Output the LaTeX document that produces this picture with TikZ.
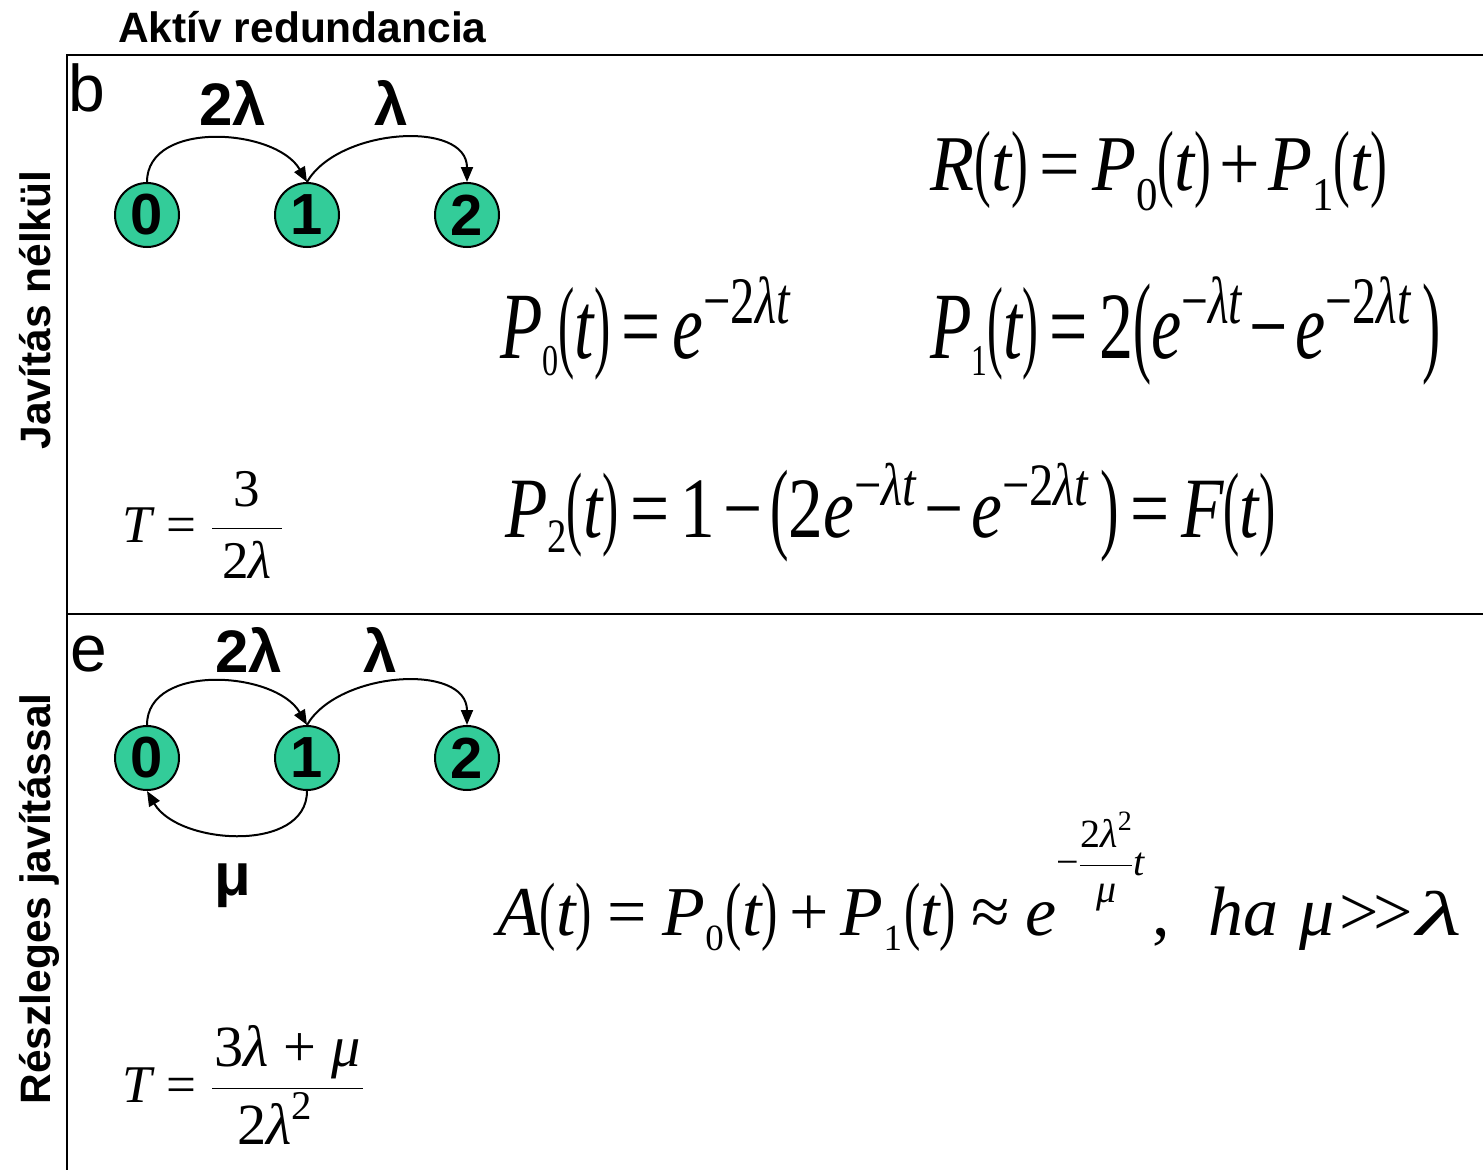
\RequirePackage{fix-cm}
\documentclass[tikz,border=0pt]{standalone}
\usepackage{amsmath}
\usepackage{fontspec}
\setmainfont{Liberation Serif}
\setsansfont{Liberation Sans}
\usetikzlibrary{arrows.meta}
\definecolor{stategreen}{HTML}{33CC99}
\newcommand{\fsz}[1]{\fontsize{#1}{#1}\selectfont}
\newcommand{\tightmu}{\thickmuskip=3mu\relax\medmuskip=2mu\relax}
\newcommand{\vi}[1]{\text{\itshape #1}}
\newcommand{\vn}[1]{\text{\upshape #1}}
\newcommand{\sbx}[3]{\raisebox{-#1}{\fsz{#2}\upshape #3}}
\newcommand{\eqs}{\mathrel{\vn{=}}}
\newcommand{\pls}{\mathbin{\vn{+}}}
\newcommand{\mns}{\mathbin{\vn{−}}}
\newcommand{\lpar}{\vn{\scalebox{0.7}[1.08]{(}}}
\newcommand{\rpar}{\vn{\scalebox{0.7}[1.08]{)}}}
\newcommand{\oft}{\lpar\vi{t}\rpar}
\newcommand{\bp}[1]{\raisebox{-0.035em}{\scalebox{0.8}[1.18]{\vn{#1}}}}

\begin{document}
\begin{tikzpicture}[x=1pt,y=-1pt,
  state/.style={circle,draw,line width=2pt,fill=stategreen,minimum size=64pt,inner sep=0pt,font=\sffamily\bfseries\fsz{58}},
  trans/.style={line width=2pt,-{Triangle[length=15pt,width=12pt]}},
  lbl/.style={anchor=base,inner sep=0pt,font=\sffamily\bfseries\fsz{60}},
  side/.style={anchor=base,rotate=90,inner sep=0pt,font=\sffamily\bfseries\fsz{42.5}},
  eq/.style={anchor=base west,inner sep=0pt}]
\useasboundingbox (0,0) rectangle (1483,1170);
% keret
\draw[line width=1.8pt] (1483,55) -- (67,55) -- (67,1170);
\draw[line width=1.8pt] (67,614) -- (1483,614);
\node[anchor=base west,inner sep=0pt,font=\sffamily\bfseries\fsz{42.5}] (title) at (118,42) {Aktív redundancia};
\node[side] (sideb) at (50,310) {Javítás nélkül};
\node[side] (sidee) at (50,899) {Részleges javítással};
% b: javitas nelkul
\node[anchor=base west,inner sep=0pt,font=\sffamily\fsz{66}] (secb) at (68,111) {b};
\node[state] (b0) at (147,215) {0};
\node[state] (b1) at (307,215) {1};
\node[state] (b2) at (467,215) {2};
\draw[trans] (b0.north) to[out=90,in=120] (b1.north);
\draw[trans] (b1.north) to[out=60,in=90] (b2.north);
\node[lbl] (lb01) at (233,125) {2λ};
\node[lbl] (lb12) at (391,125) {λ};
\node[eq,font=\fsz{79}] (eqR) at (930,190)
  {\resizebox{457pt}{\height}{$\tightmu\vi{R}\oft\eqs\vi{P}\sbx{20pt}{47}{0}\oft\pls\vi{P}\sbx{20pt}{47}{1}\oft$}};
\node[eq,font=\fsz{95}] (eqP0) at (500,358)
  {\resizebox{290pt}{\height}{$\tightmu\vi{P}\sbx{17pt}{44}{0}\oft\eqs\vi{e}^{\vn{−2}\vi{λt}}$}};
\node[eq,font=\fsz{95}] (eqP1) at (930,358)
  {\resizebox{510pt}{\height}{$\tightmu\vi{P}\sbx{17pt}{44}{1}\oft\eqs\vn{2}\bp{(}\vi{e}^{\vn{−}\vi{λt}}\mns\vi{e}^{\vn{−2}\vi{λt}}\;\bp{)}$}};
\node[eq,font=\fsz{53}] (eqTb) at (122,542)
  {$\vi{T}\eqs\dfrac{\hspace{10pt}\vn{3}\hspace{10pt}}{\hspace{10pt}\vn{2}\vi{λ}\hspace{10pt}}$};
\node[eq,font=\fsz{86}] (eqP2) at (505,537)
  {\resizebox{770pt}{\height}{$\tightmu\vi{P}\sbx{15pt}{48}{2}\oft\eqs\vn{1}\mns\bp{(}\vn{2}\vi{e}^{\vn{−}\vi{λt}}\mns\vi{e}^{\vn{−2}\vi{λt}}\;\bp{)}\eqs\vi{F}\oft$}};
% e: reszleges javitassal
\node[anchor=base west,inner sep=0pt,font=\sffamily\fsz{66}] (sece) at (70,671) {e};
\node[state] (e0) at (147,758) {0};
\node[state] (e1) at (307,758) {1};
\node[state] (e2) at (467,758) {2};
\draw[trans] (e0.north) to[out=90,in=120] (e1.north);
\draw[trans] (e1.north) to[out=60,in=90] (e2.north);
\draw[trans] (e1.south) to[out=-90,in=-60] (e0.south);
\node[lbl] (le01) at (249,672) {2λ};
\node[lbl] (le12) at (380,672) {λ};
\node[lbl] (le10) at (233,895) {μ};
\node[eq,font=\fsz{70}] (eqA) at (497,935)
  {$\thickmuskip=4mu\relax\medmuskip=3mu\relax\vi{A}\oft\eqs\vi{P}\sbx{15pt}{37}{0}\hspace{2pt}\oft\pls\vi{P}\sbx{15pt}{37}{1}\hspace{2pt}\oft\mathrel{\vn{≈}}\vi{e}\raisebox{60pt}{\fsz{40}$\vn{−}\dfrac{\vn{2}\vi{λ}^{\vn{2}}}{\vi{μ}}\vi{t}$}\hspace{8pt}\vn{,}\hspace{38pt}\vi{ha}\hspace{21pt}\vi{μ}\hspace{5pt}\vn{>\kern-5pt>}\hspace{3pt}\scalebox{1.5}[0.9]{\vi{λ}}$};
\node[eq,font=\fsz{53}] (eqTe) at (122,1102)
  {$\vi{T}\eqs\dfrac{\hspace{2pt}\scalebox{1.1}{$\vn{3}\vi{λ}\hspace{2pt}\pls\hspace{2pt}\vi{μ}$}\hspace{2pt}}{\scalebox{1.1}{$\vn{2}\vi{λ}^{\vn{2}}$}}$};
\end{tikzpicture}
\end{document}
